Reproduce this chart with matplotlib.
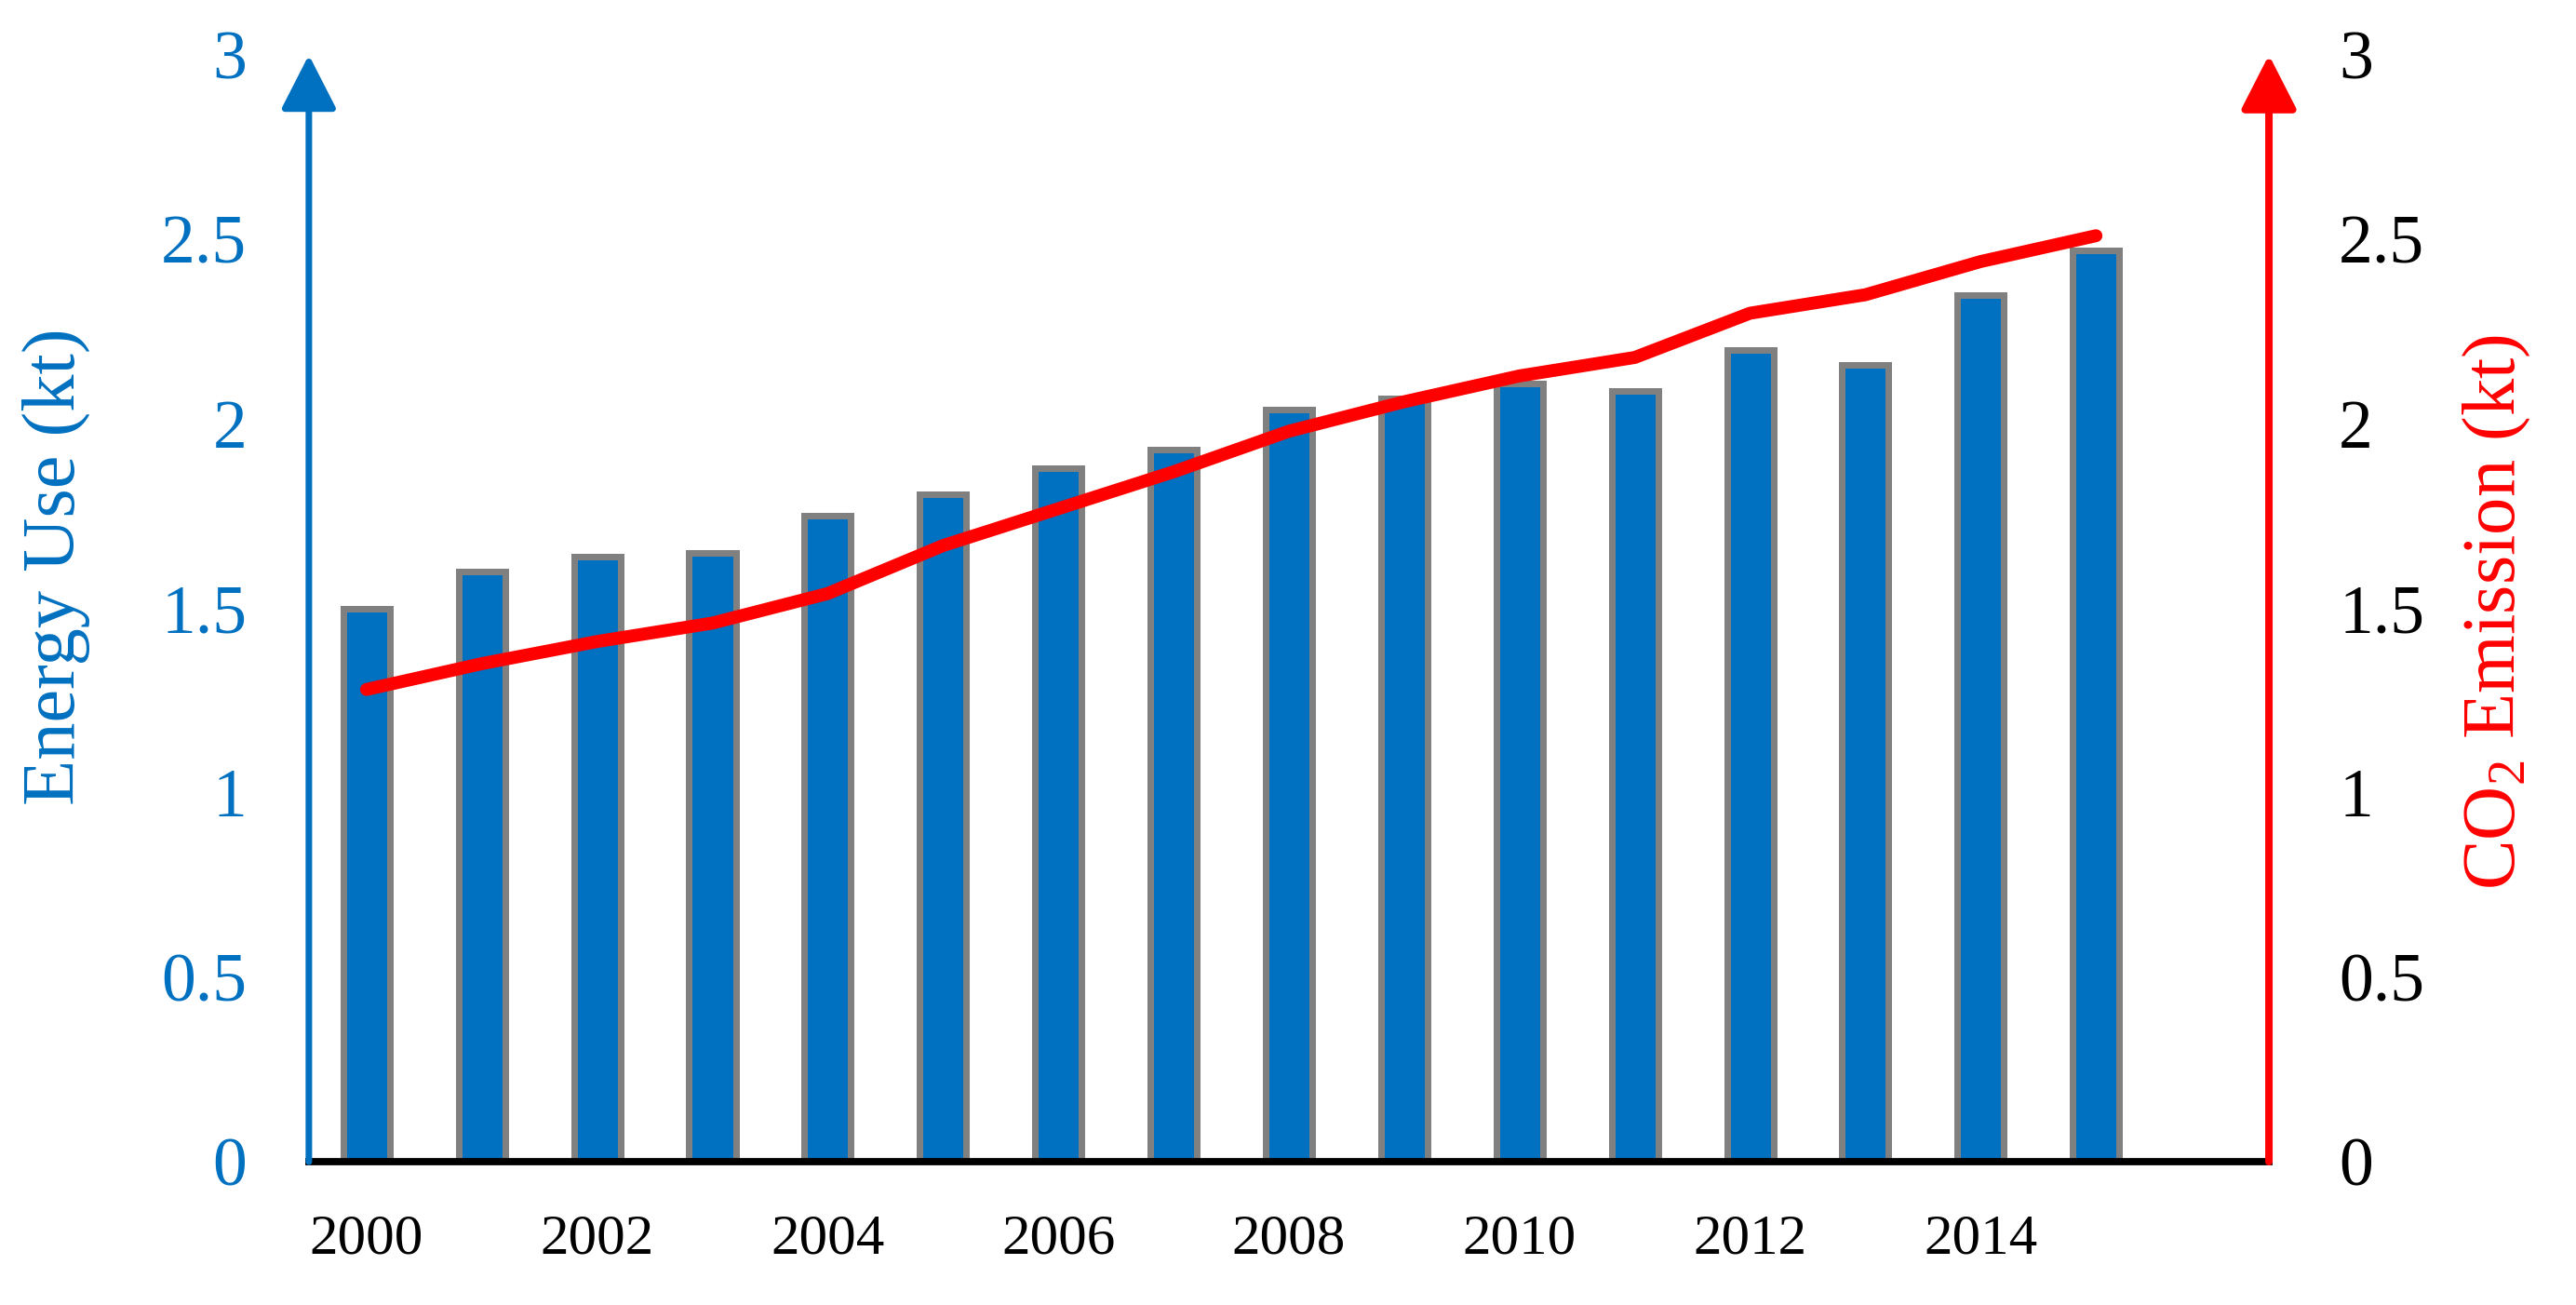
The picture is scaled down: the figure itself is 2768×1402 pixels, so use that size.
import matplotlib
matplotlib.use("Agg")
import matplotlib.pyplot as plt
import numpy as np

years = list(range(2000, 2016))
energy_use = [1.50, 1.60, 1.64, 1.65, 1.75, 1.81, 1.88, 1.93, 2.04, 2.07, 2.11, 2.09, 2.20, 2.16, 2.35, 2.47]
co2_emission = [1.28, 1.35, 1.41, 1.46, 1.54, 1.67, 1.77, 1.87, 1.98, 2.06, 2.13, 2.18, 2.30, 2.35, 2.44, 2.51]
y_ticks = [0, 0.5, 1, 1.5, 2, 2.5, 3]
y_tick_labels = ["0", "0.5", "1", "1.5", "2", "2.5", "3"]
x_tick_years = [2000, 2002, 2004, 2006, 2008, 2010, 2012, 2014]

BLUE = "#0070C0"
RED = "#FF0000"
GREY = "#808080"

plt.rcParams["font.family"] = ["Liberation Serif", "DejaVu Serif"]
plt.rcParams["mathtext.fontset"] = "custom"
plt.rcParams["mathtext.rm"] = "Liberation Serif"
plt.rcParams["mathtext.it"] = "Liberation Serif"
plt.rcParams["mathtext.bf"] = "Liberation Serif"

fig = plt.figure(figsize=(13.84, 7.01), dpi=200)
ax = fig.add_axes([0.1199, 0.1098, 0.7609, 0.8481])

x = np.arange(len(years))
ax.bar(x, energy_use, width=0.404, color=BLUE, edgecolor=GREY, linewidth=2.52, zorder=2)

ax.set_xlim(-0.5, 16.5)
ax.set_ylim(0, 3)

for s in ["top", "left", "right"]:
    ax.spines[s].set_visible(False)
ax.spines["bottom"].set_linewidth(2.8)
ax.spines["bottom"].set_color("black")
ax.spines["bottom"].set_zorder(5)

ax.set_xticks([years.index(y) for y in x_tick_years])
ax.set_xticklabels([str(y) for y in x_tick_years])
ax.tick_params(axis="x", length=0, pad=20, labelsize=22, labelcolor="black")
ax.set_yticks(y_ticks)
ax.set_yticklabels(y_tick_labels)
ax.tick_params(axis="y", length=0, pad=24, labelsize=26.5, labelcolor=BLUE)

# left axis arrow
ax.annotate("", xy=(0, 3), xytext=(0, 0), xycoords=("axes fraction", "data"),
            textcoords=("axes fraction", "data"),
            arrowprops=dict(arrowstyle="-|>,head_length=0.9,head_width=0.46", mutation_scale=20,
                            lw=2.52, color=BLUE, shrinkA=0, shrinkB=0),
            annotation_clip=False, zorder=6)

ax2 = ax.twinx()
ax2.set_ylim(0, 3)
ax2.set_xlim(-0.5, 16.5)
for s in ["top", "left", "right", "bottom"]:
    ax2.spines[s].set_visible(False)
ax2.set_yticks(y_ticks)
ax2.set_yticklabels(y_tick_labels)
ax2.tick_params(axis="y", length=0, pad=27, labelsize=26.5, labelcolor="black")
ax2.plot(x, co2_emission, color=RED, lw=5.0, solid_capstyle="round", solid_joinstyle="round", zorder=4)

ax2.annotate("", xy=(1, 3), xytext=(1, 0), xycoords=("axes fraction", "data"),
             textcoords=("axes fraction", "data"),
             arrowprops=dict(arrowstyle="-|>,head_length=0.9,head_width=0.46", mutation_scale=20,
                             lw=2.88, color=RED, shrinkA=0, shrinkB=0),
             annotation_clip=False, zorder=6)

fig.text(60 / 2768, 1 - 609 / 1402, "Energy Use (kt)", rotation=90, ha="center", va="center",
         color=BLUE, fontsize=29)
fig.text(2683 / 2768, 1 - 657 / 1402, "CO$_2$ Emission (kt)", rotation=90, ha="center", va="center",
         color=RED, fontsize=29)

fig.savefig("out.png", dpi=200)
